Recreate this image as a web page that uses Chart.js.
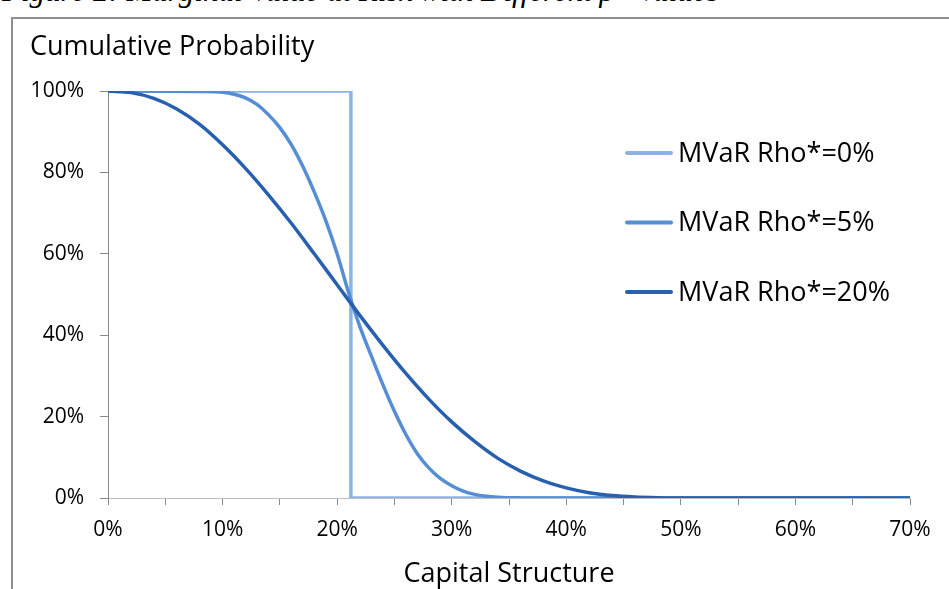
<!DOCTYPE html>
<html><head><meta charset="utf-8">
<script src="https://cdn.jsdelivr.net/npm/chart.js@4"></script>
<style>
html,body{margin:0;padding:0;background:#fff;width:949px;height:589px;overflow:hidden;position:relative}
#cap{position:absolute;left:2px;top:-25px;font:italic 31px "Liberation Serif";line-height:31px;white-space:nowrap;color:#000}
#box{position:absolute;left:11px;top:17px;width:960px;height:620px;border:2px solid #8f8f8f;box-sizing:border-box}
#wrap{position:absolute;left:0;top:0;width:949px;height:589px}
</style></head><body>
<div id="cap">Figure 2: Marginal Value at Risk with Different ρ* Values</div>
<div id="box"></div>
<div id="wrap"><canvas id="c" width="949" height="589"></canvas></div>
<script>
// Series labels
const seriesLabels = ['MVaR Rho*=0%', 'MVaR Rho*=5%', 'MVaR Rho*=20%'];
// Rho* = 0% (step)
const rho0X = [0, 21.2, 21.2, 70];
const rho0Y = [100, 100, 0, 0];
// Rho* = 5%
const rho5X = [0, 8, 10, 11, 12, 13, 14, 15, 16, 17, 18, 19, 20, 21, 22, 23, 24, 25, 26, 27, 28, 29, 30, 31, 32, 33, 34, 36, 38, 70];
const rho5Y = [100, 99.9, 99.7, 99.2, 98.3, 96.7, 94.2, 91.0, 86.8, 81.5, 75.2, 68.2, 60.0, 50.5, 42.0, 34.8, 27.8, 21.3, 15.6, 10.9, 7.4, 4.8, 3.0, 1.7, 0.9, 0.45, 0.2, 0.03, 0, 0];
// Rho* = 20%
const rho20X = [0, 2, 4, 6, 8, 10, 12, 14, 16, 18, 20, 22, 24, 26, 28, 30, 32, 34, 36, 38, 40, 42, 44, 46, 48, 50, 70];
const rho20Y = [100, 99.6, 98.2, 95.6, 91.8, 86.8, 81.0, 74.5, 67.5, 60.0, 52.4, 44.8, 37.5, 30.6, 24.3, 18.7, 13.9, 9.8, 6.6, 4.2, 2.5, 1.3, 0.6, 0.25, 0.08, 0, 0];
// Axis ticks
const xTickValues = [0, 10, 20, 30, 40, 50, 60, 70];
const yTickValues = [0, 20, 40, 60, 80, 100];
const colors = ['#8db3e2', '#558ed5', '#2760ae'];

const pts = (xs, ys) => xs.map((x, i) => ({x: x, y: ys[i]}));
const FONT = '"Open Sans"';

const legendPlugin = {
  id: 'customLegend',
  afterDraw(chart) {
    const ctx = chart.ctx;
    ctx.save();
    ctx.font = '27px ' + FONT;
    ctx.textBaseline = 'middle';
    ctx.textAlign = 'left';
    chart.data.datasets.forEach((ds, i) => {
      const y = 153 + i * 69.5;
      ctx.strokeStyle = ds.borderColor;
      ctx.lineWidth = 4;
      ctx.lineCap = 'round';
      ctx.beginPath(); ctx.moveTo(627, y); ctx.lineTo(671, y); ctx.stroke();
      ctx.fillStyle = '#000';
      ctx.fillText(ds.label, 678, y + 1);
    });
    ctx.restore();
  }
};

new Chart(document.getElementById('c'), {
  type: 'line',
  data: {
    datasets: [
      {label: seriesLabels[0], data: pts(rho0X, rho0Y), borderColor: colors[0], order: 2, tension: 0},
      {label: seriesLabels[1], data: pts(rho5X, rho5Y), borderColor: colors[1], order: 1, cubicInterpolationMode: 'monotone'},
      {label: seriesLabels[2], data: pts(rho20X, rho20Y), borderColor: colors[2], order: 0, cubicInterpolationMode: 'monotone'}
    ]
  },
  options: {
    responsive: false,
    animation: false,
    devicePixelRatio: 1,
    layout: {padding: {left: 30, right: 39, top: 0, bottom: 0}},
    elements: {point: {radius: 0}, line: {borderWidth: 3.5, fill: false, borderCapStyle: 'butt'}},
    plugins: {
      legend: {display: false},
      tooltip: {enabled: false},
      title: {
        display: true, text: 'Cumulative Probability', align: 'start', color: '#000',
        font: {family: FONT, size: 27, weight: 'normal', lineHeight: 1.2},
        padding: {top: 31, bottom: 27.6}
      }
    },
    scales: {
      x: {
        type: 'linear', min: 0, max: 70,
        afterBuildTicks: (s) => { s.ticks = []; for (let v = 0; v <= 70; v += 5) s.ticks.push({value: v}); },
        afterFit: (s) => { s.height = 91; },
        ticks: {
          autoSkip: false, maxRotation: 0, color: '#000', padding: 12,
          font: {family: FONT, size: 21},
          callback: (v) => xTickValues.includes(v) ? v + '%' : ''
        },
        grid: {display: true, drawOnChartArea: false, drawTicks: true, tickLength: 7, color: '#8a8a8a', lineWidth: 1},
        border: {display: true, color: '#bdbdbd', width: 1},
        title: {display: true, text: 'Capital Structure', color: '#000', font: {family: FONT, size: 27, lineHeight: 1.1}, padding: 0}
      },
      y: {
        type: 'linear', min: 0, max: 100,
        afterBuildTicks: (s) => { s.ticks = yTickValues.map(v => ({value: v})); },
        afterFit: (s) => { s.width = 78; },
        ticks: {color: '#000', padding: 16, font: {family: FONT, size: 21}, callback: (v) => v + '%'},
        grid: {display: true, drawOnChartArea: false, drawTicks: true, tickLength: 8, color: '#8a8a8a', lineWidth: 1},
        border: {display: true, color: '#8a8a8a', width: 1}
      }
    }
  },
  plugins: [legendPlugin]
});
</script>
</body></html>
